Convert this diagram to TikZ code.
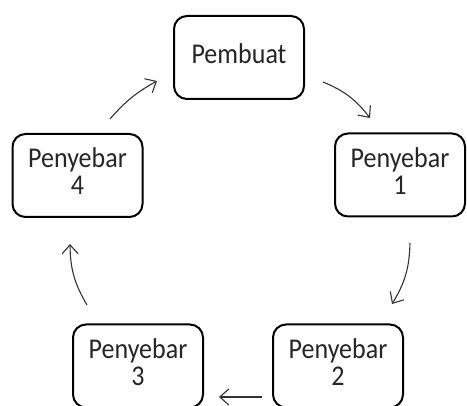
\documentclass[tikz,border=0pt]{standalone}
\usepackage{fontspec}
\setmainfont{Carlito}
\usetikzlibrary{arrows.meta}
\newcommand{\boxtext}[1]{\scalebox{1}[1.1]{\fontsize{26}{24.5}\selectfont\begin{tabular}{@{}c@{}}#1\end{tabular}}}
\tikzset{
  stage/.style={draw=black, line width=2pt, rounded corners=13pt, minimum width=130pt, minimum height=83pt, inner sep=0pt, fill=white, text=black!85},
  flow/.style={draw=black!80, line width=1.1pt, -{Straight Barb[length=9pt,width=16pt,line width=1.1pt]}}
}
\begin{document}
\begin{tikzpicture}[x=1pt,y=-1pt]
\useasboundingbox (0,0) rectangle (467,406);
\begin{scope}
\clip (0,0) rectangle (467,406);
\node[stage] (pembuat) at (239,57.5) {\boxtext{Pembuat}};
\node[stage] (p1) at (400,175) {\boxtext{Penyebar\\1}};
\node[stage] (p2) at (338,366) {\boxtext{Penyebar\\2}};
\node[stage] (p3) at (138,366) {\boxtext{Penyebar\\3}};
\node[stage] (p4) at (77.5,175.5) {\boxtext{Penyebar\\4}};
\end{scope}
\coordinate (a1s) at (323,82);  \coordinate (a1e) at (370,118);
\coordinate (a2s) at (410,243); \coordinate (a2e) at (392,304);
\coordinate (a3s) at (262,397); \coordinate (a3e) at (219,397);
\coordinate (a4s) at (87,305);  \coordinate (a4e) at (70,244);
\coordinate (a5s) at (110,119); \coordinate (a5e) at (157,81);
\draw[flow] (a1s) to[bend left=15] (a1e);
\draw[flow] (a2s) to[bend left=15] (a2e);
\draw[flow] (a3s) -- (a3e);
\draw[flow] (a4s) to[bend left=15] (a4e);
\draw[flow] (a5s) to[bend left=10] (a5e);
\end{tikzpicture}
\end{document}
